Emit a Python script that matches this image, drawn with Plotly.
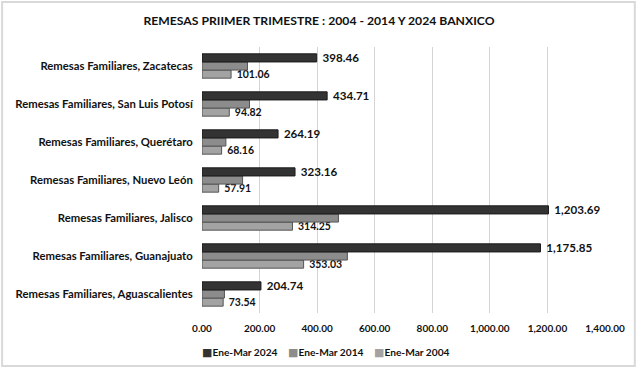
import plotly.graph_objects as go

categories = [
    "Remesas Familiares, Aguascalientes",
    "Remesas Familiares, Guanajuato",
    "Remesas Familiares, Jalisco",
    "Remesas Familiares, Nuevo León",
    "Remesas Familiares, Querétaro",
    "Remesas Familiares, San Luis Potosí",
    "Remesas Familiares, Zacatecas",
]
ene_mar_2024 = [204.74, 1175.85, 1203.69, 323.16, 264.19, 434.71, 398.46]
ene_mar_2014 = [78, 505, 474, 141, 83, 165, 158]
ene_mar_2004 = [73.54, 353.03, 314.25, 57.91, 68.16, 94.82, 101.06]
x_ticks = [0, 200, 400, 600, 800, 1000, 1200, 1400]
series_names = ["Ene-Mar 2024", "Ene-Mar 2014", "Ene-Mar 2004"]

FONT = "Lato"
COLORS = {"Ene-Mar 2024": "#333333", "Ene-Mar 2014": "#8c8c8c", "Ene-Mar 2004": "#a3a3a3"}

fig = go.Figure()
fig.add_trace(go.Bar(
    y=categories, x=ene_mar_2004, orientation="h", name=series_names[2],
    marker=dict(color=COLORS[series_names[2]], line=dict(color="#555555", width=1)),
    texttemplate=" %{x:,.2f}", textposition="outside", constraintext="none",
    textfont=dict(family=FONT, size=10.5, color="#111111", weight="bold"),
    cliponaxis=False,
))
fig.add_trace(go.Bar(
    y=categories, x=ene_mar_2014, orientation="h", name=series_names[1],
    marker=dict(color=COLORS[series_names[1]], line=dict(color="#555555", width=1)),
))
fig.add_trace(go.Bar(
    y=categories, x=ene_mar_2024, orientation="h", name=series_names[0],
    marker=dict(color=COLORS[series_names[0]], line=dict(color="#1a1a1a", width=1)),
    texttemplate=" %{x:,.2f}", textposition="outside", constraintext="none",
    textfont=dict(family=FONT, size=11.6, color="#111111", weight="bold"),
    cliponaxis=False,
))

fig.update_layout(
    width=638, height=370,
    paper_bgcolor="white", plot_bgcolor="white",
    margin=dict(l=202, r=33, t=47, b=57, autoexpand=False),
    barmode="group", bargap=0.36, bargroupgap=0,
    font=dict(family=FONT, color="#111111"),
    title=dict(text="REMESAS PRIIMER TRIMESTRE : 2004 - 2014 Y 2024 BANXICO",
               x=0.5, xref="container", xanchor="center", y=0.943, yanchor="middle",
               font=dict(family=FONT, size=12.2, color="#111111", weight="bold")),
    xaxis=dict(range=[0, 1400], tickvals=x_ticks, tickformat=",.2f",
               showgrid=True, gridcolor="#d4d4d4", gridwidth=1,
               zeroline=False, showline=False, ticks="", ticklabelstandoff=8,
               tickfont=dict(family=FONT, size=10, color="#111111", weight="bold")),
    yaxis=dict(showgrid=False, zeroline=False, showline=False, ticks="",
               ticksuffix="   ",
               tickfont=dict(family=FONT, size=11.3, color="#111111", weight="bold")),
    showlegend=False,
)

# legend drawn as a row of text entries below the axis
legend_x = [-0.005, 0.208, 0.422]
for name, lx in zip(series_names, legend_x):
    fig.add_annotation(
        xref="paper", yref="paper", x=lx, y=-0.147, xanchor="left", yanchor="middle",
        showarrow=False,
        text=f"<span style='color:{COLORS[name]};font-family:DejaVu Sans;font-size:11px'>■</span>{name}",
        font=dict(family=FONT, size=10.2, color="#111111", weight="bold"),
    )

fig.add_shape(type="rect", xref="paper", yref="paper",
              x0=-0.496, x1=1.074, y0=-0.199, y1=1.169,
              line=dict(color="#d9d9d9", width=2), fillcolor="rgba(0,0,0,0)",
              layer="below")

fig.write_html("out.html", config={"displayModeBar": False},
               post_script="document.body.style.margin='0';")
